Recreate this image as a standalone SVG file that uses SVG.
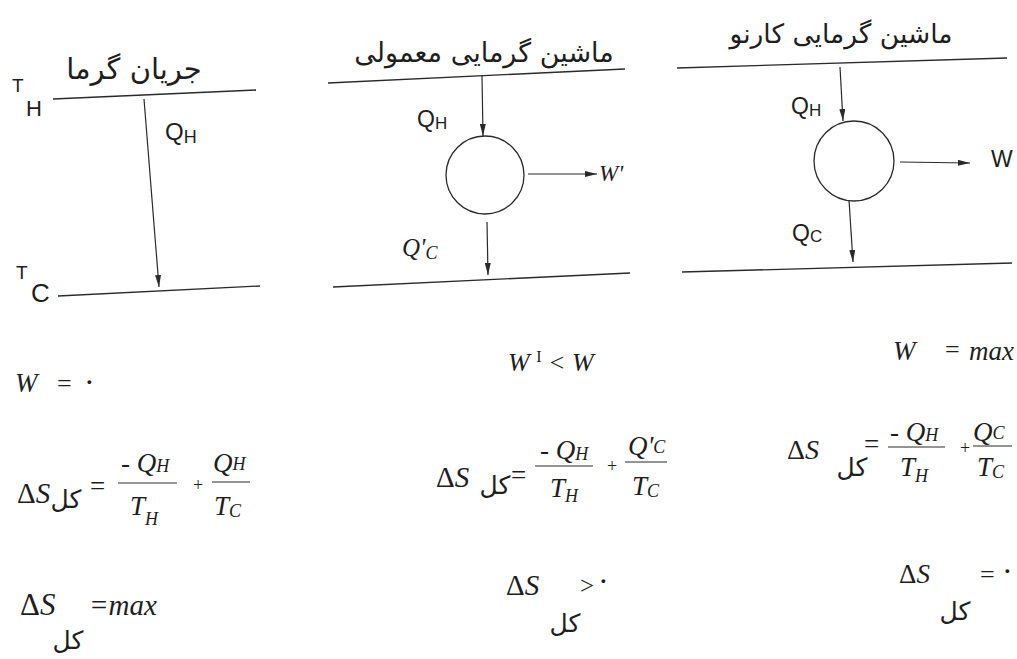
<svg xmlns="http://www.w3.org/2000/svg" width="1017" height="659" viewBox="0 0 1017 659">
<style>
.ln{stroke:#2a2a2a;stroke-width:1.3;fill:none}
.ar{stroke:#2a2a2a;stroke-width:1.2;fill:none;marker-end:url(#ah)}
.fa{font-family:"DejaVu Sans",sans-serif;fill:#1e1e1e}
.sa{font-family:"Liberation Sans",Arial,sans-serif;fill:#1e1e1e}
.mi{font-family:"Liberation Serif","Times New Roman",serif;font-style:italic;fill:#1e1e1e}
.mr{font-family:"Liberation Serif","Times New Roman",serif;fill:#1e1e1e}
.fr{stroke:#2a2a2a;stroke-width:1}
</style>
<defs>
<marker id="ah" viewBox="0 0 12 6" refX="12" refY="3" markerWidth="12" markerHeight="6" markerUnits="userSpaceOnUse" orient="auto"><path d="M0,0 L12,3 L0,6 z" fill="#2a2a2a"/></marker>
</defs>
<rect width="1017" height="659" fill="#fff"/>

<g id="panel-heat-flow">
<text class="fa" x="134" y="79" font-size="29" text-anchor="middle">جریان گرما</text>
<line class="ln" x1="53" y1="99" x2="256" y2="90"/>
<line class="ln" x1="58" y1="296" x2="260" y2="286"/>
<text class="sa" x="12" y="92" font-size="19">T</text>
<text class="sa" x="26" y="116" font-size="22">H</text>
<text class="sa" x="16" y="279" font-size="19">T</text>
<text class="sa" x="31" y="302" font-size="26">C</text>
<text class="sa" x="165" y="140" font-size="24">Q<tspan font-size="18" dy="3">H</tspan></text>
</g>

<g id="panel-ordinary-engine">
<text class="fa" x="484" y="62" font-size="27" text-anchor="middle">ماشین گرمایی معمولی</text>
<line class="ln" x1="328" y1="83" x2="625" y2="69"/>
<line class="ln" x1="333" y1="287" x2="630" y2="273"/>
<circle class="ln" cx="485" cy="175" r="39"/>
<text class="sa" x="417" y="127" font-size="23">Q<tspan font-size="17" dy="2">H</tspan></text>
<text class="mi" x="599" y="181" font-size="23">W'</text>
<text class="mi" x="402" y="256" font-size="25">Q'<tspan font-size="18" dy="3">C</tspan></text>
</g>

<g id="panel-carnot-engine">
<text class="fa" x="841" y="43" font-size="26.5" text-anchor="middle">ماشین گرمایی کارنو</text>
<line class="ln" x1="677" y1="68" x2="1007" y2="58"/>
<line class="ln" x1="682" y1="272" x2="1012" y2="263"/>
<circle class="ln" cx="854" cy="161" r="40"/>
<text class="sa" x="791" y="114" font-size="23">Q<tspan font-size="17" dy="2">H</tspan></text>
<text class="sa" x="991" y="167" font-size="23">W</text>
<text class="sa" x="792" y="241" font-size="23">Q<tspan font-size="17" dy="1">C</tspan></text>
</g>

<g id="connectors">
<line class="ar" x1="144" y1="99" x2="159" y2="287"/>
<line class="ar" x1="482" y1="76" x2="483" y2="136"/>
<line class="ar" x1="528" y1="174" x2="597" y2="174"/>
<line class="ar" x1="487" y1="222" x2="488" y2="275"/>
<line class="ar" x1="840" y1="67" x2="843" y2="121"/>
<line class="ar" x1="900" y1="162" x2="970" y2="163"/>
<line class="ar" x1="849" y1="200" x2="853" y2="262"/>
</g>

<g id="eq-left">
<text class="mi" x="15" y="392" font-size="27">W</text>
<text class="mr" x="57" y="392" font-size="26">=</text>
<text class="mr" x="84" y="393" font-size="32">·</text>
<text class="mr" x="17" y="503" font-size="29">Δ<tspan class="mi">S</tspan></text>
<text class="fa" x="66" y="508" font-size="25" text-anchor="middle">کل</text>
<text class="mr" x="90" y="495" font-size="27">=</text>
<text class="mi" x="121" y="472" font-size="27">- Q<tspan font-size="18" dy="0">H</tspan></text>
<line class="fr" x1="118" y1="483" x2="177" y2="483"/>
<text class="mi" x="130" y="515" font-size="27">T<tspan font-size="18" dy="10">H</tspan></text>
<text class="mr" x="193" y="491" font-size="18">+</text>
<text class="mi" x="213" y="472" font-size="27">Q<tspan font-size="18" dy="-2">H</tspan></text>
<line class="fr" x1="212" y1="482" x2="250" y2="482"/>
<text class="mi" x="214" y="515" font-size="27">T<tspan font-size="18" dy="2">C</tspan></text>
<text class="mr" x="20" y="615" font-size="31">Δ<tspan class="mi">S</tspan></text>
<text class="fa" x="68" y="649" font-size="25" text-anchor="middle">کل</text>
<text class="mi" x="89" y="615" font-size="29">=max</text>
</g>

<g id="eq-middle">
<text class="mi" x="508" y="371" font-size="26">W <tspan font-style="normal" font-size="16" dy="-9">I</tspan><tspan dy="9"> &lt; W</tspan></text>
<text class="mr" x="436" y="487" font-size="29">Δ<tspan class="mi">S</tspan></text>
<text class="fa" x="495" y="494" font-size="25" text-anchor="middle">کل</text>
<text class="mr" x="511" y="484" font-size="27">=</text>
<text class="mi" x="540" y="459" font-size="27">- Q<tspan font-size="18" dy="1">H</tspan></text>
<line class="fr" x1="535" y1="466" x2="593" y2="466"/>
<text class="mi" x="550" y="497" font-size="27">T<tspan font-size="18" dy="5">H</tspan></text>
<text class="mr" x="607" y="472" font-size="18">+</text>
<text class="mi" x="628" y="455" font-size="27">Q'<tspan font-size="18" dy="-2">C</tspan></text>
<line class="fr" x1="625" y1="462" x2="667" y2="462"/>
<text class="mi" x="632" y="495" font-size="27">T<tspan font-size="18" dy="2">C</tspan></text>
<text class="mr" x="506" y="595" font-size="29">Δ<tspan class="mi">S</tspan></text>
<text class="mr" x="580" y="594" font-size="25">&gt;</text>
<text class="mr" x="598" y="592" font-size="32">·</text>
<text class="fa" x="565" y="632" font-size="25" text-anchor="middle">کل</text>
</g>

<g id="eq-right">
<text class="mi" x="893" y="360" font-size="27">W</text>
<text class="mr" x="945" y="358" font-size="26">=</text>
<text class="mi" x="969" y="360" font-size="27">max</text>
<text class="mr" x="787" y="459" font-size="28">Δ<tspan class="mi">S</tspan></text>
<text class="fa" x="852" y="476" font-size="25" text-anchor="middle">کل</text>
<text class="mr" x="864" y="453" font-size="27">=</text>
<text class="mi" x="890" y="441" font-size="27">- Q<tspan font-size="18" dy="0">H</tspan></text>
<line class="fr" x1="888" y1="447" x2="945" y2="447"/>
<text class="mi" x="900" y="476" font-size="27">T<tspan font-size="18" dy="6">H</tspan></text>
<text class="mr" x="960" y="454" font-size="18">+</text>
<text class="mi" x="973" y="441" font-size="27">Q<tspan font-size="18" dy="-2">C</tspan></text>
<line class="fr" x1="973" y1="446" x2="1012" y2="446"/>
<text class="mi" x="977" y="476" font-size="27">T<tspan font-size="18" dy="2">C</tspan></text>
<text class="mr" x="899" y="583" font-size="27">Δ<tspan class="mi">S</tspan></text>
<text class="mr" x="980" y="583" font-size="26">=</text>
<text class="mr" x="1002" y="582" font-size="32">·</text>
<text class="fa" x="955" y="620" font-size="25" text-anchor="middle">کل</text>
</g>
</svg>
